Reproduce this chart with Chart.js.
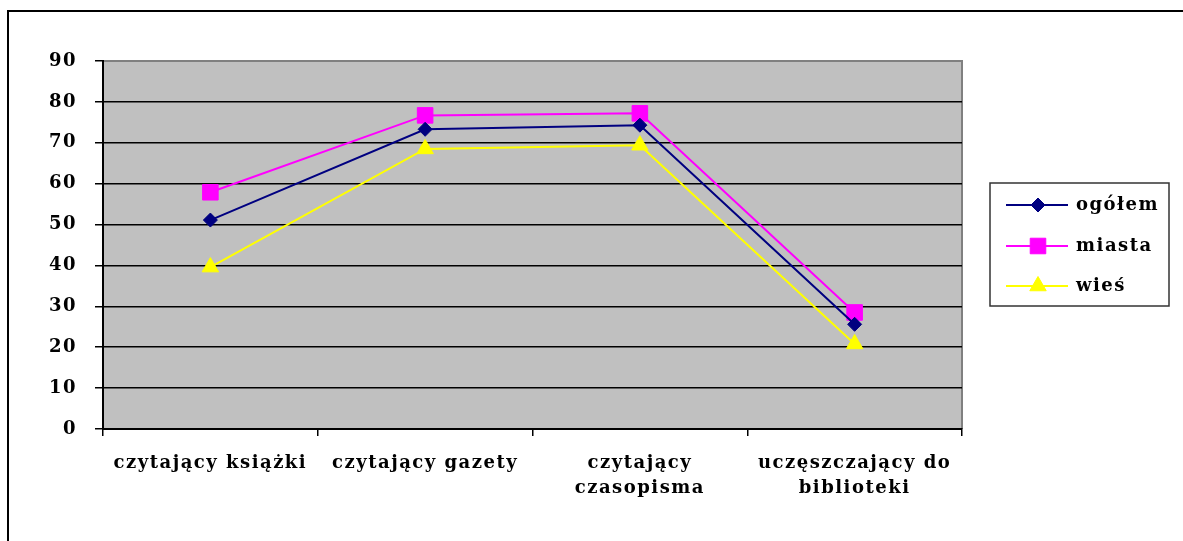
<!DOCTYPE html>
<html>
<head>
<meta charset="utf-8">
<script src="https://cdn.jsdelivr.net/npm/chart.js@4/dist/chart.umd.min.js"></script>
<style>
  html, body { margin: 0; padding: 0; background: #fff; }
  #chart { display: block; }
</style>
</head>
<body>
<canvas id="chart" width="1183" height="541"></canvas>
<script>
/* ================================================
   DATA
================================================ */

const categories = [
  'czytający książki',
  'czytający gazety',
  ['czytający', 'czasopisma'],
  ['uczęszczający do', 'biblioteki'],
];

const seriesNames = ['ogółem', 'miasta', 'wieś'];

const ogolem = [51.1, 73.3, 74.3, 25.6];
const miasta = [57.9, 76.7, 77.2, 28.5];
const wies   = [39.6, 68.5, 69.4, 20.8];

const yTicks = [0, 10, 20, 30, 40, 50, 60, 70, 80, 90];

/* ================================================
   LAYOUT / STYLE
================================================ */

const PLOT = { left: 103, top: 61, right: 962, bottom: 429 };
const W = 1183, H = 541;
const FONT = 'DejaVu Serif, Liberation Serif, serif';
const SPACING = '1.5px';

const styles = [
  { color: '#000080', point: 'rectRot',  radius: 7 },
  { color: '#FF00FF', point: 'rect',     radius: 11 },
  { color: '#FFFF00', point: 'triangle', radius: 9.5 },
];

/* ================================================
   PLUGINS
================================================ */

/* gray plot background + outer frame */
const frame = {
  id: 'frame',
  beforeDraw(chart) {
    const { ctx, chartArea: a } = chart;
    ctx.save();
    ctx.fillStyle = '#C0C0C0';
    ctx.fillRect(a.left, a.top, a.right - a.left, a.bottom - a.top);
    ctx.strokeStyle = '#808080';
    ctx.lineWidth = 2;
    ctx.beginPath();
    ctx.moveTo(a.left, a.top);
    ctx.lineTo(a.right, a.top);
    ctx.lineTo(a.right, a.bottom);
    ctx.stroke();

    ctx.strokeStyle = '#000';
    ctx.lineWidth = 2;
    ctx.beginPath();
    ctx.moveTo(8, H);
    ctx.lineTo(8, 11);
    ctx.lineTo(W, 11);
    ctx.stroke();
    ctx.restore();
    ctx.letterSpacing = SPACING;   /* wide text like the original */
  },
};

/* legend box: line + marker + name */
const boxLegend = {
  id: 'boxLegend',
  afterDraw(chart) {
    const { ctx } = chart;
    const box = { x: 990, y: 183, w: 179, h: 123 };
    const rows = [205, 246, 286];
    ctx.save();
    ctx.letterSpacing = SPACING;
    ctx.strokeStyle = '#333';
    ctx.lineWidth = 1.5;
    ctx.strokeRect(box.x, box.y, box.w, box.h);

    chart.data.datasets.forEach((ds, i) => {
      const y = rows[i];
      ctx.strokeStyle = ds.borderColor;
      ctx.lineWidth = 2;
      ctx.beginPath();
      ctx.moveTo(1006, y);
      ctx.lineTo(1068, y);
      ctx.stroke();

      ctx.fillStyle = ds.pointBackgroundColor;
      ctx.strokeStyle = ds.pointBorderColor;
      ctx.lineWidth = 1;
      Chart.helpers.drawPoint(ctx, {
        pointStyle: ds.pointStyle,
        radius: ds.pointRadius,
        borderWidth: 1,
        rotation: 0,
      }, 1038, y);

      ctx.fillStyle = '#000';
      ctx.font = 'bold 18px ' + FONT;
      ctx.textBaseline = 'middle';
      ctx.textAlign = 'left';
      ctx.fillText(ds.label, 1076, y);
    });
    ctx.restore();
  },
};

/* ================================================
   CHART
================================================ */

const datasets = [ogolem, miasta, wies].map((data, i) => ({
  label: seriesNames[i],
  data,
  borderColor: styles[i].color,
  backgroundColor: styles[i].color,
  pointBackgroundColor: styles[i].color,
  pointBorderColor: styles[i].color,
  pointStyle: styles[i].point,
  pointRadius: styles[i].radius,
  pointBorderWidth: 1,
  borderWidth: 2,
  tension: 0,
  fill: false,
}));

new Chart(document.getElementById('chart'), {
  type: 'line',
  data: { labels: categories, datasets },
  options: {
    responsive: false,
    animation: false,
    devicePixelRatio: 1,
    layout: {
      padding: { left: 0, top: PLOT.top, right: W - PLOT.right, bottom: 0 },
    },
    plugins: {
      legend: { display: false },
      tooltip: { enabled: false },
    },
    scales: {
      x: {
        offset: true,
        grid: {
          offset: true,
          drawOnChartArea: false,
          drawTicks: true,
          tickLength: 7,
          color: '#000',
          lineWidth: 1.5,
        },
        border: { color: '#000', width: 2 },
        ticks: {
          color: '#000',
          padding: 15,
          maxRotation: 0,
          autoSkip: false,
          font: { family: FONT, size: 18, weight: 'bold', lineHeight: 1.4 },
        },
        afterFit(scale) { scale.height = H - PLOT.bottom; },
      },
      y: {
        min: 0,
        max: 90,
        afterBuildTicks(scale) { scale.ticks = yTicks.map(v => ({ value: v })); },
        grid: {
          color: ctx => (ctx.tick && ctx.tick.value === 90 ? '#808080' : '#000'),
          tickColor: '#000',
          lineWidth: 1.5,
          tickLength: 8,
        },
        border: { color: '#000', width: 2 },
        ticks: {
          color: '#000',
          padding: 18,
          font: { family: FONT, size: 18, weight: 'bold' },
        },
        afterFit(scale) { scale.width = PLOT.left; },
      },
    },
  },
  plugins: [frame, boxLegend],
});
</script>
</body>
</html>
